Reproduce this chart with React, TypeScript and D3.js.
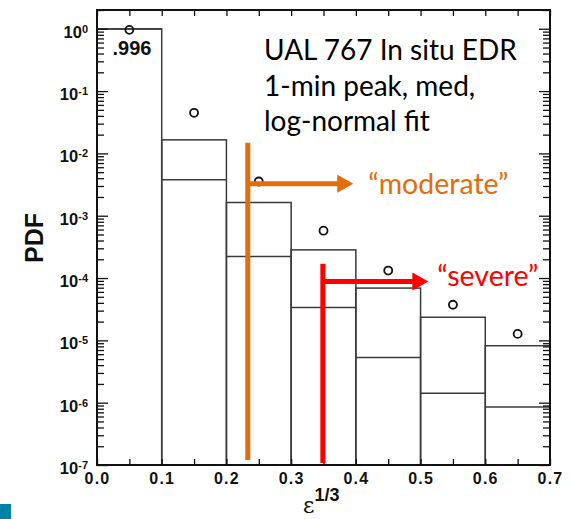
import * as d3 from 'd3'
import { useEffect, useRef } from 'react'

const width = 572, height = 519
const margin = { top: 10, right: 22, bottom: 54, left: 97 }

// histogram bins of eps^(1/3)
const binEdges = [0, 0.1, 0.2, 0.3, 0.4, 0.5, 0.6, 0.7]
const peakPdf = [0.996, 0.0165, 1.63e-3, 2.83e-4, 6.9e-5, 2.35e-5, 8.2e-6]
const medianPdf = [0.99, 3.77e-3, 2.21e-4, 3.36e-5, 5.3e-6, 1.42e-6, 8.5e-7]
// log-normal fit points
const fitEps = [0.05, 0.15, 0.25, 0.35, 0.45, 0.55, 0.65]
const fitPdf = [0.96, 0.0448, 3.54e-3, 5.75e-4, 1.32e-4, 3.73e-5, 1.27e-5]

const decades = [-7, -6, -5, -4, -3, -2, -1, 0]
const xTicks = [0, 0.05, 0.1, 0.15, 0.2, 0.25, 0.3, 0.35, 0.4, 0.45, 0.5, 0.55, 0.6, 0.65, 0.7]
const noteLines = ['UAL 767 In situ EDR', '1-min peak, med,', 'log-normal fit']

// turbulence thresholds
const thresholdLabels = ['“moderate”', '“severe”']
const thresholdEps = [0.233, 0.349]
const thresholdTop = [0.0148, 1.7e-4]
const thresholdBottom = [1.2e-7, 1.08e-7]
const arrowPdf = [3.25e-3, 8.8e-5]
const arrowTip = [0.396, 0.512]
const thresholdColors = ['#e46c0a', '#ff0000']

const tickFont = '"Liberation Sans", Arial, sans-serif'
const noteFont = 'Lato, "Open Sans", sans-serif'

const chart = (node: SVGSVGElement) => {
  const svg = d3.select(node)
  svg.selectAll('*').remove()

  const x = d3.scaleLinear().domain([0, 0.7]).range([margin.left, width - margin.right])
  const y = d3.scaleLog().domain([1e-7, 2]).range([height - margin.bottom, margin.top])
  const [x0, x1] = x.range()
  const [yb, yt] = y.range()

  const bins = d3.range(peakPdf.length).map(i => ({
    a: binEdges[i], b: binEdges[i + 1], peak: peakPdf[i], med: medianPdf[i]
  }))

  // bars
  const bars = svg.append('g')
    .attr('fill', 'none')
    .attr('stroke', '#3a3a3a')
    .attr('stroke-width', 1.5)
  bars.selectAll('rect')
    .data(bins)
    .join('rect')
      .attr('x', d => x(d.a))
      .attr('y', d => y(d.peak))
      .attr('width', d => x(d.b) - x(d.a))
      .attr('height', d => yb - y(d.peak))
  bars.selectAll('line')
    .data(bins)
    .join('line')
      .attr('x1', d => x(d.a))
      .attr('x2', d => x(d.b))
      .attr('y1', d => y(d.med))
      .attr('y2', d => y(d.med))

  // axes (ticks pointing inward)
  const minors = decades.slice(0, -1).flatMap(k => d3.range(2, 10).map(m => m * Math.pow(10, k)))
    .concat([2])
  const majors = decades.map(k => Math.pow(10, k))

  const axes = svg.append('g')
  const styleAxis = g => {
    g.select('.domain').remove()
    g.selectAll('line').attr('stroke', '#111').attr('stroke-width', 1.3)
  }
  axes.append('g').attr('transform', `translate(${x0},0)`)
    .call(d3.axisLeft(y).tickValues(minors).tickSize(-7).tickFormat(() => ''))
    .call(styleAxis)
  axes.append('g').attr('transform', `translate(${x0},0)`)
    .call(d3.axisLeft(y).tickValues(majors).tickSize(-11).tickFormat(() => ''))
    .call(styleAxis)
  axes.append('g').attr('transform', `translate(${x1},0)`)
    .call(d3.axisRight(y).tickValues(minors).tickSize(-7).tickFormat(() => ''))
    .call(styleAxis)
  axes.append('g').attr('transform', `translate(${x1},0)`)
    .call(d3.axisRight(y).tickValues(majors).tickSize(-11).tickFormat(() => ''))
    .call(styleAxis)
  axes.append('g').attr('transform', `translate(0,${yt})`)
    .call(d3.axisTop(x).tickValues(xTicks).tickSize(-6).tickFormat(() => ''))
    .call(styleAxis)
  const bottom = axes.append('g').attr('transform', `translate(0,${yb})`)
    .call(d3.axisBottom(x).tickValues(xTicks).tickSize(-6).tickPadding(8)
      .tickFormat((d, i) => i % 2 === 0 ? d3.format('.1f')(d as number) : ''))
    .call(styleAxis)
  bottom.selectAll('text')
    .attr('font-family', tickFont)
    .attr('font-weight', 'bold')
    .attr('font-size', 16)
    .attr('letter-spacing', 1.2)
    .attr('fill', '#111')

  // frame
  svg.append('rect')
    .attr('x', x0).attr('y', yt)
    .attr('width', x1 - x0).attr('height', yb - yt)
    .attr('fill', 'none')
    .attr('stroke', '#111')
    .attr('stroke-width', 2)

  // y tick labels 10^k
  const ylab = svg.append('g')
    .attr('font-family', tickFont)
    .attr('font-weight', 'bold')
    .attr('fill', '#111')
    .attr('text-anchor', 'end')
  ylab.selectAll('text')
    .data(decades)
    .join('text')
      .attr('x', x0 - 9)
      .attr('y', d => y(Math.pow(10, d)) + 9)
      .each(function (d) {
        const t = d3.select(this)
        t.append('tspan').attr('font-size', 16.5).text('10')
        t.append('tspan').attr('font-size', 11).attr('dy', -5).text(String(d))
      })

  // fit circles
  svg.append('g')
    .attr('fill', 'none')
    .attr('stroke', '#111')
    .attr('stroke-width', 1.8)
    .selectAll('circle')
    .data(fitEps.map((e, i) => [e, fitPdf[i]]))
    .join('circle')
      .attr('cx', d => x(d[0]))
      .attr('cy', d => y(d[1]))
      .attr('r', 4)

  svg.append('text')
    .attr('x', x(0.054))
    .attr('y', y(peakPdf[0]) + 26)
    .attr('text-anchor', 'middle')
    .attr('font-family', tickFont)
    .attr('font-weight', 'bold')
    .attr('font-size', 20)
    .attr('fill', '#111')
    .text('.996')

  // threshold markers
  thresholdLabels.forEach((label, i) => {
    const g = svg.append('g').attr('fill', thresholdColors[i]).attr('stroke', thresholdColors[i])
    const xv = x(thresholdEps[i]), ya = y(arrowPdf[i]), tip = x(arrowTip[i])
    g.append('line')
      .attr('x1', xv).attr('x2', xv)
      .attr('y1', y(thresholdTop[i])).attr('y2', y(thresholdBottom[i]))
      .attr('stroke-width', 5)
    g.append('line')
      .attr('x1', xv).attr('x2', tip - 12)
      .attr('y1', ya).attr('y2', ya)
      .attr('stroke-width', 5)
    g.append('path')
      .attr('stroke', 'none')
      .attr('d', `M${tip},${ya}L${tip - 16},${ya - 9}L${tip - 16},${ya + 9}Z`)
    g.append('text')
      .attr('stroke', 'none')
      .attr('x', tip + (i === 0 ? 15 : 9))
      .attr('y', ya + (i === 0 ? 10 : 5))
      .attr('font-family', noteFont)
      .attr('font-size', 28.5)
      .text(label)
  })

  // note
  svg.append('g')
    .attr('font-family', noteFont)
    .attr('font-size', 28)
    .attr('fill', '#000')
    .selectAll('text')
    .data(noteLines)
    .join('text')
      .attr('x', 264)
      .attr('y', (d, i) => 60 + i * 35.5)
      .text(d => d)

  // axis titles
  svg.append('text')
    .attr('transform', `translate(43,238) rotate(-90)`)
    .attr('text-anchor', 'middle')
    .attr('font-family', tickFont)
    .attr('font-weight', 'bold')
    .attr('font-size', 25)
    .attr('fill', '#111')
    .text('PDF')

  const xt = svg.append('text')
    .attr('x', 303)
    .attr('y', 513)
    .attr('fill', '#111')
  xt.append('tspan').attr('font-family', '"DejaVu Serif", serif').attr('font-size', 22).text('ε')
  xt.append('tspan')
    .attr('font-family', tickFont).attr('font-weight', 'bold').attr('font-size', 18)
    .attr('dy', -12).text('1/3')

  // slide marker
  svg.append('rect')
    .attr('x', 0).attr('y', 504).attr('width', 11).attr('height', 15)
    .attr('fill', '#0081a6')
}

export default function App() {
  const ref = useRef<SVGSVGElement>(null)
  useEffect(() => {
    if (ref.current) chart(ref.current)
  }, [])
  return (
    <svg ref={ref} width={width} height={height}
      style={{ position: 'absolute', left: 0, top: 0, background: '#fff' }} />
  )
}
